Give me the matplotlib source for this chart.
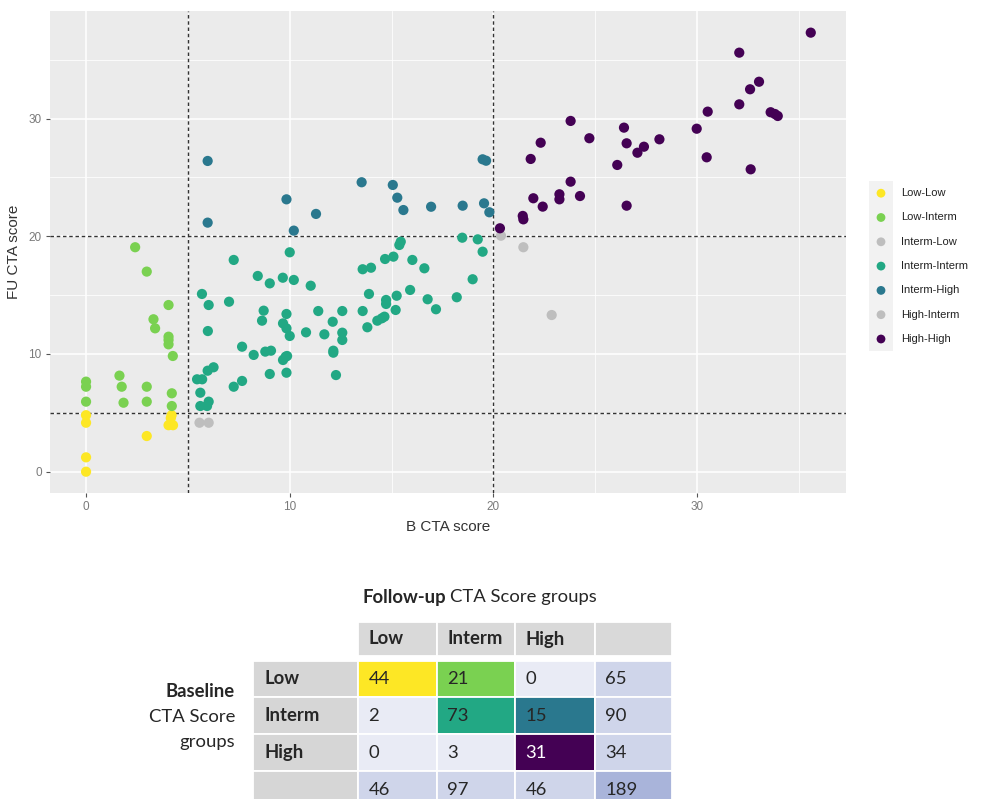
import matplotlib
matplotlib.use('Agg')
import matplotlib.pyplot as plt
from matplotlib.patches import Rectangle

# ---------------- data ----------------
groups = ['Low-Low', 'Low-Interm', 'Interm-Low', 'Interm-Interm',
          'Interm-High', 'High-Interm', 'High-High']
group_colors = ['#FDE725', '#7AD151', '#BEBEBE', '#22A884',
                '#2A788E', '#BEBEBE', '#440154']

low_low_x = [0, 0, 0, 0, 2.98, 4.05, 4.27, 4.16, 4.2]
low_low_y = [0, 1.22, 4.16, 4.8, 3.03, 3.95, 3.95, 4.55, 4.8]

low_interm_x = [0, 0, 0, 1.64, 1.75, 1.84, 2.41, 2.98, 2.98, 2.98, 3.31, 3.39,
                4.05, 4.05, 4.05, 4.05, 4.26, 4.21, 4.21]
low_interm_y = [7.65, 7.22, 5.95, 8.16, 7.22, 5.86, 19.07, 17.0, 7.22, 5.95, 12.95, 12.18,
                14.16, 11.47, 11.19, 10.82, 9.83, 6.66, 5.58]

interm_low_x = [5.57, 6.02]
interm_low_y = [4.16, 4.16]

interm_interm_x = [5.45, 5.7, 5.61, 5.61, 5.94, 6.02, 5.69, 6.02, 5.98, 5.97, 6.26,
                   7.02, 7.25, 7.25, 7.66, 7.66, 8.23, 8.43, 8.72, 8.64, 8.8, 9.08,
                   9.02, 9.02, 9.66, 9.84, 9.67, 9.84, 10.0, 9.67, 9.8, 9.87, 9.84,
                   10.0, 10.2, 11.03, 10.8, 11.4, 11.7, 12.11, 12.14, 12.14, 12.27,
                   12.58, 12.58, 12.58, 13.58, 13.99, 13.58, 13.81, 13.89, 14.3, 14.52,
                   14.65, 14.68, 15.09, 14.73, 14.73, 15.2, 15.25, 15.38, 15.45, 15.91,
                   16.02, 16.61, 16.77, 17.18, 18.2, 18.47, 18.98, 19.23, 19.47]
interm_interm_y = [7.85, 7.85, 6.71, 5.58, 5.58, 5.95, 15.1, 14.16, 11.95, 8.58, 8.87,
                   14.44, 17.99, 7.22, 10.62, 7.71, 9.92, 16.63, 13.68, 12.83, 10.2, 10.28,
                   16.0, 8.3, 16.48, 13.4, 12.6, 12.18, 11.53, 9.49, 9.77, 9.83, 8.41,
                   18.64, 16.29, 15.8, 11.84, 13.65, 11.67, 12.74, 10.11, 10.28, 8.21,
                   13.65, 11.81, 11.19, 17.2, 17.33, 13.65, 12.27, 15.1, 12.83, 13.03,
                   13.17, 18.07, 18.27, 14.59, 14.25, 13.74, 14.95, 19.26, 19.54, 15.44,
                   17.99, 17.28, 14.65, 13.8, 14.82, 19.88, 16.35, 19.74, 18.69]

interm_high_x = [5.97, 5.97, 9.84, 10.2, 11.29, 13.53, 15.06, 15.28, 15.58, 16.94,
                 18.49, 19.47, 19.64, 19.54, 19.8]
interm_high_y = [26.4, 21.16, 23.14, 20.48, 21.9, 24.59, 24.36, 23.28, 22.23, 22.51,
                 22.6, 26.54, 26.42, 22.8, 22.04]

high_interm_x = [20.37, 21.47, 22.86]
high_interm_y = [20.05, 19.07, 13.31]

high_high_x = [20.32, 21.44, 21.47, 21.83, 21.96, 22.32, 22.42, 23.24, 23.24, 23.79,
               23.79, 24.25, 24.71, 26.08, 26.41, 26.54, 26.54, 27.07, 27.39, 28.15,
               29.98, 30.47, 30.52, 32.07, 32.07, 32.6, 32.63, 33.04, 33.61, 33.82,
               33.96, 35.58]
high_high_y = [20.68, 21.73, 21.44, 26.57, 23.23, 27.95, 22.52, 23.57, 23.14, 29.8,
               24.64, 23.42, 28.33, 26.06, 29.23, 27.9, 22.6, 27.1, 27.61, 28.24,
               29.14, 26.71, 30.59, 35.6, 31.21, 32.49, 25.69, 33.13, 30.54, 30.39,
               30.22, 37.3]

group_x = [low_low_x, low_interm_x, interm_low_x, interm_interm_x,
           interm_high_x, high_interm_x, high_high_x]
group_y = [low_low_y, low_interm_y, interm_low_y, interm_interm_y,
           interm_high_y, high_interm_y, high_high_y]

cutoffs = [5, 20]
axis_ticks = [0, 10, 20, 30]

table_title_bold = 'Follow-up'
table_title_rest = 'CTA Score groups'
table_col_labels = ['Low', 'Interm', 'High', '']
table_row_labels = ['Low', 'Interm', 'High', '']
table_counts = [[44, 21, 0, 65],
                [2, 73, 15, 90],
                [0, 3, 31, 34],
                [46, 97, 46, 189]]
table_row_title = ['Baseline', 'CTA Score', 'groups']

# ---------------- figure ----------------
W, H = 981, 799
fig = plt.figure(figsize=(W / 100, H / 100), dpi=100)

ax = fig.add_axes([50 / W, 1 - 493 / H, 796 / W, 482 / H])
ax.set_facecolor('#EBEBEB')
for s in ax.spines.values():
    s.set_visible(False)
ax.set_xlim(-1.77, 37.31)
ax.set_ylim(-1.81, 39.14)
ax.set_xticks(axis_ticks)
ax.set_yticks(axis_ticks)
ax.set_xticks([5, 15, 25, 35], minor=True)
ax.set_yticks([5, 15, 25, 35], minor=True)
ax.grid(which='major', color='white', lw=1.1)
ax.grid(which='minor', color='white', lw=0.55)
ax.set_axisbelow(True)
ax.tick_params(which='minor', length=0)
ax.tick_params(which='major', length=3, width=0.8, color='#555555',
               labelsize=8.5, labelcolor='#7A7A7A', pad=3)
for lab in ax.get_xticklabels() + ax.get_yticklabels():
    lab.set_family('Liberation Sans')

for c in cutoffs:
    ax.axvline(c, color='#333333', lw=1.0, ls=(0, (2.5, 2)), zorder=2)
    ax.axhline(c, color='#333333', lw=1.0, ls=(0, (2.5, 2)), zorder=2)

for gx, gy, col in zip(group_x, group_y, group_colors):
    ax.scatter(gx, gy, s=54, color=col, edgecolors='none', zorder=3)

ax.set_xlabel('B CTA score', fontsize=11, color='#333333',
              family='Liberation Sans', labelpad=5)
ax.set_ylabel('FU CTA score', fontsize=11, color='#333333',
              family='Liberation Sans', labelpad=5)

# ---------------- legend ----------------
pitch = 24.3
lg = fig.add_axes([866 / W, 1 - (339 + pitch / 2) / H, 115 / W, (pitch * 7) / H])
lg.set_xlim(0, 115)
lg.set_ylim(len(groups) - 0.5, -0.5)
lg.axis('off')
for i, (g, col) in enumerate(zip(groups, group_colors)):
    lg.add_patch(Rectangle((3, i - 0.5), 24, 1, color='#F2F2F2', lw=0))
    lg.scatter([15], [i], s=40, color=col, edgecolors='none')
    lg.text(35, i, g, va='center', ha='left', fontsize=8,
            family='Liberation Sans', color='#222222')

# ---------------- table ----------------
col_w = [105, 78.7, 78.3, 80, 76.7]
row_h = 36.9
header_h = 34
gap = 4.5
col_edges = [sum(col_w[:k]) for k in range(len(col_w) + 1)]
tw = col_edges[-1]
th = header_h + gap + row_h * 4
top_px = 622
left_px = 253
ta = fig.add_axes([left_px / W, 1 - (top_px + th) / H, tw / W, th / H])
ta.set_xlim(0, tw)
ta.set_ylim(th, 0)
ta.axis('off')

header_bg = '#D9D9D9'
label_bg = '#D6D6D6'
body_bg = '#E9EBF5'
total_bg = '#CFD5EA'
grand_bg = '#A9B4DA'
txt_col = '#262626'
tfs = 13.3
tfont = 'Lato'
pad = 10.5

# header row
for j, lab in enumerate(table_col_labels):
    x0 = col_edges[j + 1]
    ta.add_patch(Rectangle((x0, 0), col_w[j + 1], header_h, facecolor=header_bg,
                           edgecolor='white', lw=1.3))
    ta.text(x0 + pad, header_h / 2, lab, ha='left', va='center', fontsize=tfs,
            fontweight='bold', family=tfont, color=txt_col)

# body rows
cell_colors = {(0, 0): group_colors[0], (0, 1): group_colors[1],
               (1, 1): group_colors[3], (1, 2): group_colors[4],
               (2, 2): group_colors[6]}
for i, rlab in enumerate(table_row_labels):
    y0 = header_h + gap + i * row_h
    ta.add_patch(Rectangle((0, y0), col_w[0], row_h, facecolor=label_bg,
                           edgecolor='white', lw=1.3))
    ta.text(12, y0 + row_h / 2, rlab, ha='left', va='center', fontsize=tfs,
            fontweight='bold', family=tfont, color=txt_col)
    for j, val in enumerate(table_counts[i]):
        x0 = col_edges[j + 1]
        last_r = i == len(table_row_labels) - 1
        last_c = j == len(table_counts[i]) - 1
        if (i, j) in cell_colors:
            fc = cell_colors[(i, j)]
        elif last_r and last_c:
            fc = grand_bg
        elif last_r or last_c:
            fc = total_bg
        else:
            fc = body_bg
        ta.add_patch(Rectangle((x0, y0), col_w[j + 1], row_h, facecolor=fc,
                               edgecolor='white', lw=1.3))
        tc = 'white' if fc == group_colors[6] else txt_col
        ta.text(x0 + pad, y0 + row_h / 2, str(val), ha='left', va='center',
                fontsize=tfs, family=tfont, color=tc)

# table title
t1 = fig.text(362 / W, 1 - 597 / H, table_title_bold, fontsize=tfs, fontweight='bold',
              family=tfont, color=txt_col, ha='left', va='center')
fig.canvas.draw()
bb = t1.get_window_extent()
fig.text((bb.x1 + 4) / W, 1 - 597 / H, table_title_rest, fontsize=tfs, family=tfont,
         color=txt_col, ha='left', va='center')

# row title
for k, line in enumerate(table_row_title):
    fig.text(235 / W, 1 - (691.7 + 25.3 * k) / H, line, fontsize=tfs,
             fontweight='bold' if k == 0 else 'normal', family=tfont,
             color=txt_col, ha='right', va='center')

fig.savefig('out.png', dpi=100)
